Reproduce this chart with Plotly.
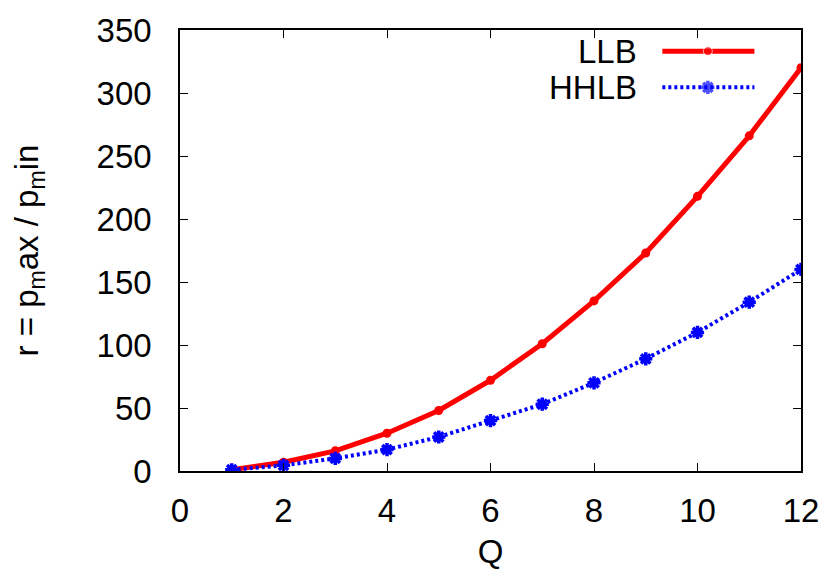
import plotly.graph_objects as go

Q = [1, 2, 3, 4, 5, 6, 7, 8, 9, 10, 11, 12]
llb = [1, 7, 16, 30, 48, 72, 101, 135, 173, 218, 266, 320]
hhlb = [1, 4.5, 10, 17, 27, 40, 53, 70, 89, 110, 134, 160]
names = ["LLB", "HHLB"]
x_ticks = [0, 2, 4, 6, 8, 10, 12]
y_ticks = [0, 50, 100, 150, 200, 250, 300, 350]

FONT = "Liberation Sans, Arial, sans-serif"
FS = 33
RED = "#ff0000"
BLUE = "#0000ff"

fig = go.Figure()
fig.add_trace(go.Scatter(x=Q, y=llb, mode="lines+markers", name=names[0],
                         line=dict(color=RED, width=5),
                         marker=dict(symbol="circle", size=9, color=RED)))
fig.add_trace(go.Scatter(x=Q, y=hhlb, mode="lines+markers", name=names[1],
                         line=dict(color=BLUE, width=4, dash="3px,3px"),
                         marker=dict(symbol="asterisk-open", size=11,
                                     line=dict(color=BLUE, width=3.5))))

# legend samples on hidden overlay axes (gnuplot-style key: text then sample)
lx = [0.7767, 0.850, 0.925]
ly = [0.952, 0.870]
fig.add_trace(go.Scatter(x=lx, y=[ly[0]] * 3, xaxis="x2", yaxis="y2", mode="lines+markers",
                         line=dict(color=RED, width=5),
                         marker=dict(symbol="circle", size=[0, 9, 0], color=RED),
                         hoverinfo="skip"))
fig.add_trace(go.Scatter(x=lx, y=[ly[1]] * 3, xaxis="x2", yaxis="y2", mode="lines+markers",
                         line=dict(color=BLUE, width=4, dash="3px,3px"),
                         marker=dict(symbol="asterisk-open", size=[0, 11, 0],
                                     line=dict(color=BLUE, width=3.5)),
                         hoverinfo="skip"))
for nm, yy in zip(names, ly):
    fig.add_annotation(x=0.7384, y=yy, xref="paper", yref="paper", text=nm,
                       showarrow=False, xanchor="right", yanchor="middle",
                       font=dict(family=FONT, size=FS, color="black"))

axis_common = dict(showline=True, linecolor="black", linewidth=1.5, mirror="ticks",
                   ticks="inside", ticklen=8, tickwidth=1.2, tickcolor="black",
                   showgrid=False, zeroline=False,
                   tickfont=dict(family=FONT, size=FS, color="black"))

fig.update_layout(
    width=831, height=576,
    margin=dict(l=180, r=24, t=24, b=104),
    paper_bgcolor="white", plot_bgcolor="white",
    showlegend=False,
    xaxis=dict(range=[0, 12], tickvals=x_ticks, ticklabelstandoff=10,
               title=dict(text="Q", font=dict(family=FONT, size=FS, color="black"), standoff=12),
               **axis_common),
    yaxis=dict(range=[0, 350], tickvals=y_ticks, ticklabelstandoff=20,
               title=dict(text="r = p<sub>m</sub>ax / p<sub>m</sub>in",
                          font=dict(family=FONT, size=FS, color="black"), standoff=48),
               **axis_common),
    xaxis2=dict(range=[0, 1], overlaying="x", visible=False),
    yaxis2=dict(range=[0, 1], overlaying="y", visible=False),
)

fig.write_html("out.html")
